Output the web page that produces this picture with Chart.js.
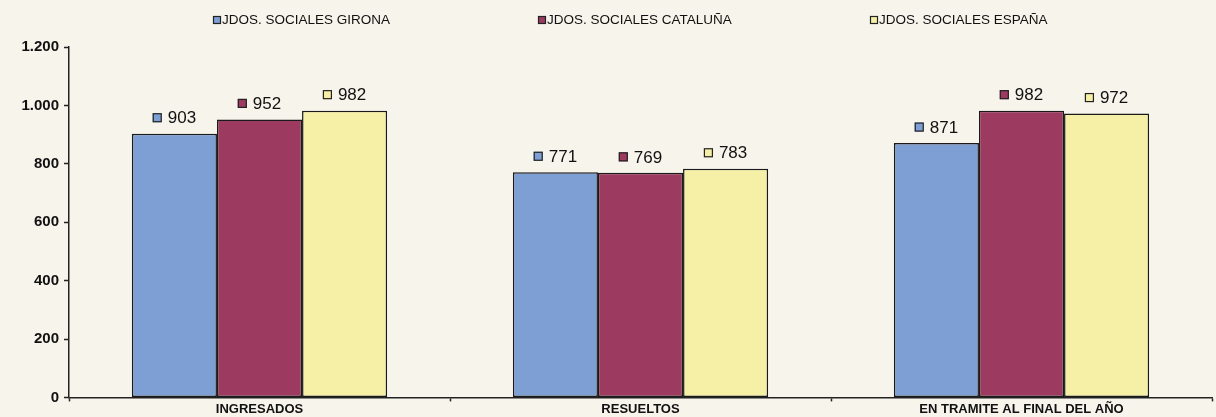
<!DOCTYPE html>
<html><head><meta charset="utf-8">
<script src="https://cdn.jsdelivr.net/npm/chart.js@4"></script>
<style>html,body{margin:0;padding:0;background:#f7f4ec}#w{width:1216px;height:417px}</style>
</head><body><div id="w"><canvas id="c"></canvas></div>
<script>
const categories = ["INGRESADOS", "RESUELTOS", "EN TRAMITE AL FINAL DEL AÑO"];
const seriesNames = ["JDOS. SOCIALES GIRONA", "JDOS. SOCIALES CATALUÑA", "JDOS. SOCIALES ESPAÑA"];
const girona = [903, 771, 871];
const cataluna = [952, 769, 982];
const espana = [982, 783, 972];
const yTicks = [0, 200, 400, 600, 800, 1000, 1200];
const colors = ["#7d9fd3", "#9c3a5f", "#f6f0a6"];

const fmt = v => String(v).replace(/\B(?=(\d{3})+(?!\d))/g, ".");
const FONT = '"Liberation Sans", Arial, sans-serif';

const bgPlugin = {
  id: 'bg',
  beforeDraw(chart) {
    const ctx = chart.ctx;
    ctx.save();
    ctx.fillStyle = '#f7f4ec';
    ctx.fillRect(0, 0, chart.width, chart.height);
    ctx.restore();
  }
};

const legendPlugin = {
  id: 'customLegend',
  afterDraw(chart) {
    const ctx = chart.ctx;
    const xs = [213, 538, 870];
    ctx.save();
    ctx.font = '13.5px ' + FONT;
    ctx.textBaseline = 'middle';
    chart.data.datasets.forEach((ds, i) => {
      const x = xs[i], y = 20;
      ctx.fillStyle = ds.backgroundColor;
      ctx.fillRect(x, y - 4, 8, 8);
      ctx.strokeStyle = '#222';
      ctx.lineWidth = 1.2;
      ctx.strokeRect(x + 0.5, y - 3.5, 7, 7);
      ctx.fillStyle = '#111';
      ctx.textAlign = 'left';
      ctx.fillText(ds.label, x + 9, y);
    });
    ctx.restore();
  }
};

const labelPlugin = {
  id: 'valueLabels',
  afterDatasetsDraw(chart) {
    const ctx = chart.ctx;
    ctx.save();
    ctx.font = '17px ' + FONT;
    ctx.textBaseline = 'middle';
    ctx.textAlign = 'left';
    chart.data.datasets.forEach((ds, di) => {
      const meta = chart.getDatasetMeta(di);
      meta.data.forEach((bar, i) => {
        const txt = fmt(ds.data[i]);
        const tw = ctx.measureText(txt).width;
        const total = 9 + 6 + tw;
        const x0 = bar.x - total / 2;
        const y = bar.y - 16;
        ctx.fillStyle = ds.backgroundColor;
        ctx.fillRect(x0, y - 4.5, 9, 9);
        ctx.strokeStyle = '#222';
        ctx.lineWidth = 1.2;
        ctx.strokeRect(x0 + 0.5, y - 4, 8, 8);
        ctx.fillStyle = '#111';
        ctx.fillText(txt, x0 + 15, y + 1);
      });
    });
    ctx.restore();
  }
};

new Chart(document.getElementById('c'), {
  type: 'bar',
  data: {
    labels: categories,
    datasets: [
      { label: seriesNames[0], data: girona, backgroundColor: colors[0] },
      { label: seriesNames[1], data: cataluna, backgroundColor: colors[1] },
      { label: seriesNames[2], data: espana, backgroundColor: colors[2] }
    ].map(d => Object.assign(d, { borderColor: '#1a1a1a', borderWidth: 1.5, borderSkipped: false }))
  },
  options: {
    responsive: true,
    maintainAspectRatio: false,
    animation: false,
    datasets: { bar: { categoryPercentage: 0.67, barPercentage: 1.0 } },
    layout: { padding: { top: 47, left: 7, right: 4, bottom: 0 } },
    plugins: { legend: { display: false }, tooltip: { enabled: false } },
    scales: {
      x: {
        offset: true,
        grid: { display: true, offset: true, drawOnChartArea: false, drawTicks: true, tickLength: 4, color: '#222', tickWidth: 1.5 },
        border: { display: true, color: '#222', width: 1.5 },
        ticks: { color: '#111', font: { family: FONT, size: 13, weight: 'bold' }, padding: 0, maxRotation: 0 }
      },
      y: {
        min: 0, max: 1200,
        afterBuildTicks: s => { s.ticks = yTicks.map(v => ({ value: v })); },
        afterFit: s => { s.width = 62; },
        grid: { display: true, drawOnChartArea: false, drawTicks: true, tickLength: 5, color: '#222', tickWidth: 1.5 },
        border: { display: true, color: '#222', width: 1.5 },
        ticks: { color: '#111', font: { family: FONT, size: 15, weight: 'bold' }, padding: 5, callback: v => fmt(v) }
      }
    }
  },
  plugins: [bgPlugin, legendPlugin, labelPlugin]
});
</script>
</body></html>
